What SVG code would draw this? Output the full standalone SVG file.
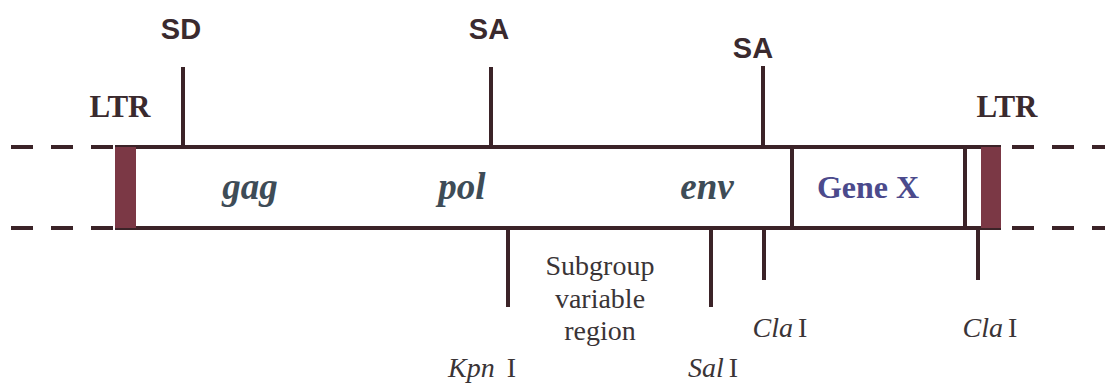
<svg xmlns="http://www.w3.org/2000/svg" width="1105" height="388" viewBox="0 0 1105 388">
<style>
.ln{stroke:#3b2328;stroke-width:4;fill:none}
.dash{stroke:#3b2328;stroke-width:4;stroke-dasharray:22 18;fill:none}
.ltrb{fill:#7b3845}
.sans{font-family:"Liberation Sans",Arial,sans-serif;font-weight:bold;font-size:29px;fill:#3a2a2e;text-anchor:middle}
.ltr{font-family:"Liberation Serif","Times New Roman",serif;font-weight:bold;font-size:31px;fill:#3a2a2e;text-anchor:middle}
.gene{font-family:"Liberation Serif","Times New Roman",serif;font-weight:bold;font-style:italic;font-size:37px;fill:#3e4c57;text-anchor:middle}
.gx{font-family:"Liberation Serif","Times New Roman",serif;font-weight:bold;font-size:32px;fill:#4b4a8c;text-anchor:middle}
.lab{font-family:"Liberation Serif","Times New Roman",serif;font-size:28px;fill:#3a3436;text-anchor:middle}
.it{font-style:italic}
</style>
<rect width="1105" height="388" fill="#ffffff"/>
<g id="connectors">
<line class="dash" x1="11" y1="147" x2="115" y2="147"/>
<line class="dash" x1="11" y1="228" x2="115" y2="228"/>
<line class="dash" x1="1012" y1="147" x2="1105" y2="147"/>
<line class="dash" x1="1012" y1="228" x2="1105" y2="228"/>
<line class="ln" x1="183" y1="67" x2="183" y2="147"/>
<line class="ln" x1="491" y1="67" x2="491" y2="147"/>
<line class="ln" x1="763" y1="66" x2="763" y2="147"/>
<line class="ln" x1="508" y1="228" x2="508" y2="307"/>
<line class="ln" x1="711" y1="228" x2="711" y2="307"/>
<line class="ln" x1="764" y1="228" x2="764" y2="280"/>
<line class="ln" x1="978" y1="228" x2="978" y2="280"/>
</g>
<g id="genome">
<line class="ln" x1="115" y1="147" x2="1001" y2="147"/>
<line class="ln" x1="115" y1="228" x2="1001" y2="228"/>
<line class="ln" x1="792" y1="147" x2="792" y2="228"/>
<line class="ln" x1="965" y1="147" x2="965" y2="228"/>
</g>
<g id="ltr-left"><rect class="ltrb" x="115" y="147" width="21" height="81"/><text class="ltr" x="120" y="117">LTR</text></g>
<g id="ltr-right"><rect class="ltrb" x="981" y="147" width="20" height="81"/><text class="ltr" x="1007" y="117">LTR</text></g>
<g id="sd"><text class="sans" x="181" y="39">SD</text></g>
<g id="sa1"><text class="sans" x="489" y="39">SA</text></g>
<g id="sa2"><text class="sans" x="753" y="58">SA</text></g>
<g id="gag"><text class="gene" x="250" y="199">gag</text></g>
<g id="pol"><text class="gene" x="462" y="199">pol</text></g>
<g id="env"><text class="gene" x="707" y="199">env</text></g>
<g id="genex"><text class="gx" x="868" y="198">Gene X</text></g>
<g id="subgroup"><text class="lab" x="600" y="275">Subgroup</text><text class="lab" x="600" y="308">variable</text><text class="lab" x="600" y="340">region</text></g>
<g id="kpn"><text class="lab" x="482" y="377"><tspan class="it">Kpn</tspan><tspan dx="12">I</tspan></text></g>
<g id="sal"><text class="lab" x="713" y="377"><tspan class="it">Sal</tspan><tspan dx="5">I</tspan></text></g>
<g id="cla1"><text class="lab" x="780" y="337"><tspan class="it">Cla</tspan><tspan dx="5">I</tspan></text></g>
<g id="cla2"><text class="lab" x="990" y="337"><tspan class="it">Cla</tspan><tspan dx="5">I</tspan></text></g>
</svg>
